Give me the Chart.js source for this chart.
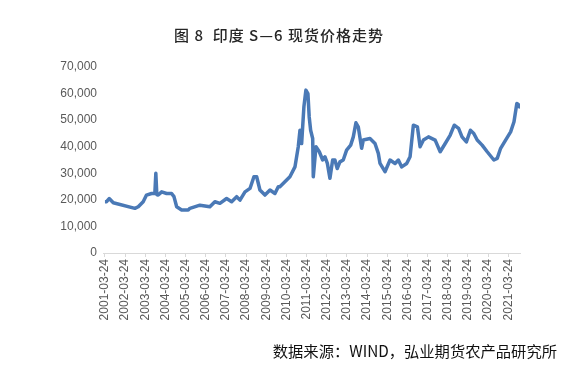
<!DOCTYPE html>
<html>
<head>
<meta charset="utf-8">
<script src="https://cdn.jsdelivr.net/npm/chart.js@4/dist/chart.umd.min.js"></script>
<style>
html,body{margin:0;padding:0;background:#fff;}
#wrap{position:relative;width:588px;height:370px;}
</style>
</head>
<body>
<div id="wrap"><canvas id="c" width="588" height="370"></canvas></div>
<script>
const titleText = '图 8  印度 S—6 现货价格走势';
const sourceText = '数据来源：WIND，弘业期货农产品研究所';
const dates = [
'2001-03-24','2001-04-22','2001-06-09','2001-08-22','2002-09-17','2002-11-17','2003-02-14','2003-04-15',
'2003-07-15','2003-09-13','2003-10-01','2003-10-19','2003-11-13','2004-01-15','2004-04-13','2004-07-13',
'2004-08-25','2004-10-13','2005-01-11','2005-05-11','2005-06-10','2005-12-08','2006-06-06','2006-09-05',
'2006-12-05','2007-04-05','2007-07-05','2007-10-04','2007-12-03','2008-03-03','2008-06-02','2008-08-12',
'2008-10-01','2008-11-29','2009-02-28','2009-05-30','2009-08-28','2009-10-27','2009-11-25','2010-02-24',
'2010-05-26','2010-08-25','2010-10-24','2010-11-24','2010-12-24','2011-02-03','2011-03-11','2011-04-17',
'2011-05-10','2011-06-05','2011-07-12','2011-07-23','2011-09-10','2011-11-09','2012-01-09','2012-02-20',
'2012-04-03','2012-05-20','2012-07-08','2012-08-18','2012-09-29','2012-11-17','2013-01-16','2013-03-18',
'2013-05-31','2013-07-17','2013-09-03','2013-10-15','2013-12-15','2014-01-14','2014-05-15','2014-08-14',
'2014-10-13','2014-11-13','2015-02-11','2015-05-13','2015-08-12','2015-10-11','2015-12-10','2016-03-10',
'2016-05-10','2016-07-09','2016-09-20','2016-11-08','2017-01-08','2017-04-09','2017-08-08','2017-11-07',
'2018-02-06','2018-05-08','2018-07-20','2018-10-06','2018-12-07','2019-02-24','2019-05-08','2019-07-08',
'2019-09-08','2019-12-06','2020-03-07','2020-07-06','2020-09-05','2020-11-06','2021-02-04','2021-05-06',
'2021-07-06','2021-08-26','2021-10-05','2021-10-12'
];
const prices = [
19300,19300,20500,18900,16800,17400,19300,21800,
22400,22400,30000,22000,21800,23000,22400,22400,
21200,17400,16200,16200,16800,18000,17400,19300,
18700,20500,19300,21200,19900,23000,24300,28700,
28700,23700,21800,23700,22400,24900,24900,26800,
28700,32400,40000,46200,41200,55000,61300,60000,
51200,46200,43100,28700,40000,38100,35000,36200,
33700,28100,35000,35000,31800,34300,35000,38700,
40600,43700,49000,47500,39400,42500,43100,41200,
37500,33700,30600,35000,33700,35000,32400,33700,
36200,48100,47500,40000,42500,43700,42500,38100,
41200,44400,48100,46900,43700,41800,46200,45000,
42500,40600,38100,35000,35600,39400,42500,45600,
49400,56300,55600,55000
];
const tickYears = [2001,2002,2003,2004,2005,2006,2007,2008,2009,2010,2011,2012,2013,2014,2015,2016,2017,2018,2019,2020,2021];
const tickSuffix = '-03-24';

function toYear(s){
  const p = s.split('-').map(Number);
  const start = Date.UTC(p[0],0,1), end = Date.UTC(p[0]+1,0,1);
  return p[0] + (Date.UTC(p[0],p[1]-1,p[2]) - start)/(end-start);
}
const points = dates.map((d,i)=>({x:toYear(d), y:prices[i]}));
const tickVals = tickYears.map(y=>toYear(y+tickSuffix));

const textPlugin = {
  id:'texts',
  afterDraw(chart){
    const ctx = chart.ctx;
    ctx.save();
    ctx.fillStyle = '#262626';
    ctx.font = '500 15px "Noto Sans CJK SC"';
    ctx.letterSpacing = '1px';
    ctx.textAlign = 'center';
    ctx.textBaseline = 'middle';
    ctx.fillText(titleText, 279, 35);
    ctx.letterSpacing = '0px';
    ctx.fillStyle = '#111';
    ctx.font = '15.3px "Noto Sans CJK SC"';
    ctx.textAlign = 'right';
    ctx.fillText(sourceText, 557, 351);
    ctx.restore();
  }
};

new Chart(document.getElementById('c'), {
  type:'line',
  data:{datasets:[{data:points, borderColor:'#4a79b6', borderWidth:3.5, pointRadius:0, tension:0, fill:false, borderJoinStyle:'round'}]},
  options:{
    responsive:false, animation:false,
    layout:{padding:{top:67,right:68,bottom:45,left:0}},
    plugins:{legend:{display:false}, tooltip:{enabled:false}},
    scales:{
      x:{type:'linear', min:2001.128, max:2021.807,
        afterBuildTicks(s){ s.ticks = tickVals.map(v=>({value:v})); },
        afterFit(s){ s.height = 72; },
        ticks:{autoSkip:false, maxRotation:90, minRotation:90, color:'#595959', padding:2,
          font:{family:'"Liberation Sans"', size:12},
          callback(v){ return Math.round(v - 0.2247) + tickSuffix; }},
        grid:{drawOnChartArea:false, drawTicks:true, tickLength:4, color:'#d9d9d9'},
        border:{display:true, color:'#d9d9d9'}
      },
      y:{min:0, max:70000,
        afterFit(s){ s.width = 103; },
        ticks:{stepSize:10000, color:'#595959', padding:6,
          font:{family:'"Liberation Sans"', size:12},
          callback(v){ return v.toLocaleString('en-US'); }},
        grid:{display:false, drawTicks:false},
        border:{display:false}
      }
    }
  },
  plugins:[textPlugin]
});
</script>
</body>
</html>
